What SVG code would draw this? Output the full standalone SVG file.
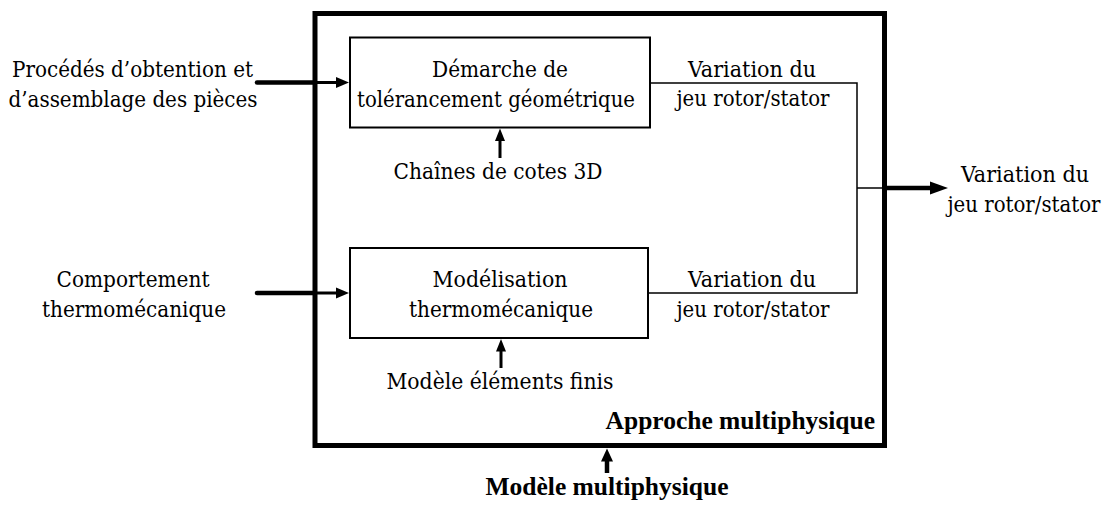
<svg xmlns="http://www.w3.org/2000/svg" width="1109" height="508" viewBox="0 0 1109 508">
<defs>
<style>
text{font-family:'DejaVu Serif','Liberation Serif',serif;font-stretch:condensed;font-size:23px;fill:#000;text-anchor:middle}
text.b{font-family:'Liberation Serif','Times New Roman',serif;font-stretch:normal;font-weight:bold;font-size:25.5px}
.box{fill:#fff;stroke:#000;stroke-width:2}
.thin{fill:none;stroke:#000;stroke-width:1.5}
.thick{fill:none;stroke:#000;stroke-width:4.5}
.med{fill:none;stroke:#000;stroke-width:3}
.head{fill:#000;stroke:none}
</style>
</defs>
<rect width="1109" height="508" fill="#fff"/>
<g id="outer">
<rect x="315" y="13.5" width="569.5" height="432" fill="none" stroke="#000" stroke-width="5"/>
<text class="b" x="875" y="429" style="text-anchor:end">Approche multiphysique</text>
</g>
<g id="box-tolerancement">
<rect class="box" x="350" y="37.5" width="300" height="90"/>
<text x="500" y="77" textLength="136" lengthAdjust="spacingAndGlyphs">Démarche de</text>
<text x="496" y="107" textLength="278" lengthAdjust="spacingAndGlyphs">tolérancement géométrique</text>
</g>
<g id="box-modelisation">
<rect class="box" x="350" y="248" width="298" height="90"/>
<text x="500" y="287" textLength="135" lengthAdjust="spacingAndGlyphs">Modélisation</text>
<text x="501" y="317" textLength="184" lengthAdjust="spacingAndGlyphs">thermomécanique</text>
</g>
<g id="in-procedes">
<text x="132.5" y="77" textLength="241" lengthAdjust="spacingAndGlyphs">Procédés d’obtention et</text>
<text x="133" y="107" textLength="249" lengthAdjust="spacingAndGlyphs">d’assemblage des pièces</text>
</g>
<g id="in-comportement">
<text x="133" y="287" textLength="153" lengthAdjust="spacingAndGlyphs">Comportement</text>
<text x="134" y="317" textLength="184" lengthAdjust="spacingAndGlyphs">thermomécanique</text>
</g>
<g id="in-chaines"><text x="498" y="179" textLength="209" lengthAdjust="spacingAndGlyphs">Chaînes de cotes 3D</text></g>
<g id="in-elements"><text x="500" y="389" textLength="227" lengthAdjust="spacingAndGlyphs">Modèle éléments finis</text></g>
<g id="in-modele"><text class="b" x="607" y="495">Modèle multiphysique</text></g>
<g id="lbl-var1">
<text x="752" y="77" textLength="128" lengthAdjust="spacingAndGlyphs">Variation du</text>
<text x="753" y="106" textLength="153" lengthAdjust="spacingAndGlyphs">jeu rotor/stator</text>
</g>
<g id="lbl-var2">
<text x="752" y="287" textLength="128" lengthAdjust="spacingAndGlyphs">Variation du</text>
<text x="753" y="317" textLength="153" lengthAdjust="spacingAndGlyphs">jeu rotor/stator</text>
</g>
<g id="out-var">
<text x="1025" y="182" textLength="128" lengthAdjust="spacingAndGlyphs">Variation du</text>
<text x="1024" y="212" textLength="153" lengthAdjust="spacingAndGlyphs">jeu rotor/stator</text>
</g>
<g id="connectors">
<path class="thick" d="M257 82.5H315" stroke-linecap="round"/>
<path class="med" d="M315 82.5H337"/>
<path class="head" d="M349 82.5L336 77L336 88Z"/>
<path class="thick" d="M257 293H315" stroke-linecap="round"/>
<path class="med" d="M315 293H337"/>
<path class="head" d="M349 293L336 287.5L336 298.5Z"/>
<path class="med" d="M500 158V139"/>
<path class="head" d="M500 128.5L495 141L505 141Z"/>
<path class="med" d="M501 368V349"/>
<path class="head" d="M501 339L496 351.5L506 351.5Z"/>
<path class="thin" d="M650 83H857V293H648"/>
<path class="thin" d="M857 188H884"/>
<path class="thick" d="M884 188H932"/>
<path class="head" d="M948 188L930 181.5L930 194.5Z"/>
<path class="thick" d="M607 473V460"/>
<path class="head" d="M607 448.5L601 461.5L613 461.5Z"/>
</g>
</svg>
